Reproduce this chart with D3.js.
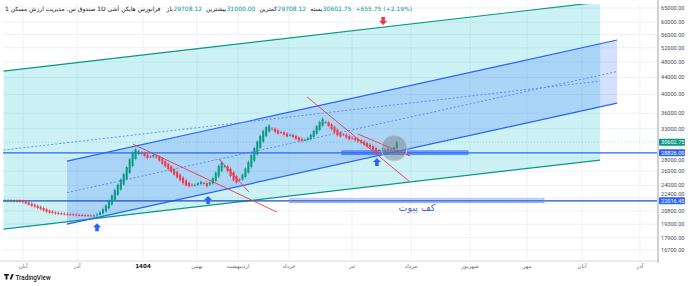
<!DOCTYPE html>
<html>
<head>
<meta charset="utf-8">
<script src="https://cdn.jsdelivr.net/npm/d3@7"></script>
<style>
  body { margin: 0; background: #fff; }
  svg { display: block; }
</style>
</head>
<body>
<svg></svg>
<script>
// heikin ashi closes, one per session
let closes = [
  22050, 21980, 22020, 21990, 22000, 21940, 21850, 21700, 21550, 21400,
  21300, 21150, 21000, 20850, 20700, 20600, 20550, 20500, 20480, 20450,
  20420, 20380, 20400, 20350, 20300, 20320, 20280, 20300, 20260, 20250,
  20280, 20400, 20650, 21000, 21450, 22000, 22700, 23400, 24100, 24800,
  25600, 26600, 27800, 28900, 29400, 29100, 28700, 28300, 28000, 28200,
  28500, 28100, 27600, 27100, 26700, 26300, 25900, 25500, 25100, 24700,
  24300, 24000, 23900, 24000, 24100, 24300, 24500, 24300, 23900, 24400,
  25000, 25800, 26800, 27300, 26800, 26000, 25300, 24700, 24400, 24800,
  25500, 26400, 27400, 28500, 29600, 30700, 31700, 32600, 33300, 33600,
  33000, 32400, 32100, 32300, 31900, 31600, 31900, 31500, 31200, 30900,
  30800, 31000, 31300, 31900, 32600, 33500, 34300, 34900, 34200, 33500,
  32900, 32300, 31800, 31600, 31900, 31400, 31100, 31300, 30900, 30700,
  30500, 30200, 29900, 29700, 29300, 28950, 29200, 29400, 29300, 29500,
  29350, 29700, 30602.75
]

let yTicks = [65000, 60000, 56000, 52000, 48000, 44000, 40000, 36000, 33000,
              28000, 26000, 24000, 22400, 20800, 19300, 17900, 16700]

let monthNames = ["آبان", "آذر", "1404", "بهمن", "اردیبهشت", "خرداد", "تیر", "مرداد", "شهریور", "مهر", "آبان", "آذر"]
let monthAt = [6.1, 24.3, 46.5, 64.7, 78.5, 95.7, 116.9, 136.8, 156.7, 175.9, 194.4, 213.9]

// drawings, in [session index, price]
let cyanUpper = [[-0.5, 45620], [200.5, 67190]]
let cyanLower = [[-0.5, 18779], [200.5, 27677]]
let blueUpper = [[20.9, 27514], [206.2, 54300]]
let blueLower = [[20.9, 19311], [206.2, 38117]]
let redLines = [
  [[43.1, 30277], [91.6, 20665]],
  [[72.1, 27826], [82.2, 23120]],
  [[101.8, 39425], [136.5, 24460]],
  [[118.9, 32025], [136.5, 28303]]
]
let levels = [28826.00, 22016.45]
let upArrows = [[31, 19420], [68.4, 22607], [125.3, 27980]]
let downArrows = [[127.4, 59080]]
let pivotBox = [96, 181.6, 22250, 21780]
let zoneBar = [113.5, 156, 29150, 28500]
let circleAt = [131.1, 29601]
let pivotText = "کف پیوت"

let headerTitle = "فرابورس هایکن آشی 1D صندوق س. مدیریت ارزش مسکن 1"
let headerFields = [["باز", "29708.12"], ["بیشترین", "31000.00"], ["کمترین", "29708.12"], ["بسته", "30602.75"]]
let headerChange = "+655.75 (+2.19%)"

let width = 690
let height = 286
let plotLeft = 3, plotRight = 657, plotTop = 4, plotBottom = 260

let green = "#089981"
let red = "#f23645"
let blue = "#2962ff"
let fa = "DejaVu Sans, sans-serif"

let svg = d3.select("svg").attr("width", width).attr("height", height)

let xScale = d3.scaleLinear().domain([0, 132]).range([5, 396.8])
let yScale = d3.scaleLog().domain([16700, 65000]).range([250, 8])

svg.append("defs").append("clipPath").attr("id", "plot")
  .append("rect")
  .attr("x", plotLeft).attr("y", plotTop)
  .attr("width", plotRight - plotLeft).attr("height", plotBottom - plotTop)

let plot = svg.append("g").attr("clip-path", "url(#plot)")

// grid
plot.selectAll(".hgrid").data(yTicks).enter().append("line")
  .attr("x1", plotLeft).attr("x2", plotRight)
  .attr("y1", d => yScale(d)).attr("y2", d => yScale(d))
  .attr("stroke", "#eef1f6").attr("stroke-width", 1)
plot.selectAll(".vgrid").data(monthAt).enter().append("line")
  .attr("x1", d => xScale(d)).attr("x2", d => xScale(d))
  .attr("y1", plotTop).attr("y2", plotBottom)
  .attr("stroke", "#eef1f6").attr("stroke-width", 1)

let pt = p => [xScale(p[0]), yScale(p[1])]
let line = d3.line()
let mid = (a, b) => a.map((p, k) => [p[0], Math.sqrt(p[1] * b[k][1])])

// cyan channel
plot.append("path")
  .attr("d", line(cyanUpper.map(pt).concat(cyanLower.map(pt).reverse())) + "Z")
  .attr("fill", "rgba(0,188,212,0.2)")

// blue channel
plot.append("path")
  .attr("d", line(blueUpper.map(pt).concat(blueLower.map(pt).reverse())) + "Z")
  .attr("fill", "rgba(41,98,255,0.2)")

;[cyanUpper, cyanLower].forEach(l => {
  plot.append("path").attr("d", line(l.map(pt)))
    .attr("stroke", green).attr("stroke-width", 1.2).attr("fill", "none")
})
;[blueUpper, blueLower].forEach(l => {
  plot.append("path").attr("d", line(l.map(pt)))
    .attr("stroke", blue).attr("stroke-width", 1.2).attr("fill", "none")
})
;[mid(cyanUpper, cyanLower), mid(blueUpper, blueLower)].forEach(l => {
  plot.append("path").attr("d", line(l.map(pt)))
    .attr("stroke", "#5b84f0").attr("stroke-width", 0.9)
    .attr("stroke-dasharray", "2,2").attr("fill", "none")
})

// horizontal levels
plot.selectAll(".level").data(levels).enter().append("line")
  .attr("x1", plotLeft).attr("x2", plotRight)
  .attr("y1", d => yScale(d)).attr("y2", d => yScale(d))
  .attr("stroke", (d, i) => i == 0 ? blue : "#1f4bd0").attr("stroke-width", 1.3)

// pivot floor box
plot.append("rect")
  .attr("x", xScale(pivotBox[0])).attr("width", xScale(pivotBox[1]) - xScale(pivotBox[0]))
  .attr("y", yScale(pivotBox[2])).attr("height", yScale(pivotBox[3]) - yScale(pivotBox[2]))
  .attr("fill", "rgba(41,98,255,0.12)").attr("stroke", "#7a9cf5").attr("stroke-width", 0.8)
plot.append("text")
  .attr("x", xScale((pivotBox[0] + pivotBox[1]) / 2)).attr("y", yScale(pivotBox[3]) + 8)
  .attr("text-anchor", "middle").attr("font-family", fa).attr("font-size", 9.5)
  .attr("fill", "#3a63e0").text(pivotText)

// zone bar
plot.append("rect")
  .attr("x", xScale(zoneBar[0])).attr("width", xScale(zoneBar[1]) - xScale(zoneBar[0]))
  .attr("y", yScale(zoneBar[2])).attr("height", yScale(zoneBar[3]) - yScale(zoneBar[2]))
  .attr("fill", "rgba(41,98,255,0.55)").attr("stroke", "#3f6ef0").attr("stroke-width", 0.6)

// heikin ashi candles
let candles = []
closes.forEach((c, i) => {
  let o = i == 0 ? c : (candles[i - 1].o + candles[i - 1].c) / 2
  candles.push({ i: i, o: o, c: c })
})

let cg = plot.append("g")
cg.selectAll("line").data(candles).enter().append("line")
  .attr("x1", d => xScale(d.i)).attr("x2", d => xScale(d.i))
  .attr("y1", d => yScale(Math.max(d.o, d.c)) - 1.5)
  .attr("y2", d => yScale(Math.min(d.o, d.c)) + 1.5)
  .attr("stroke", d => d.c >= d.o ? green : red).attr("stroke-width", 0.6)
cg.selectAll("rect").data(candles).enter().append("rect")
  .attr("x", d => xScale(d.i) - 1)
  .attr("width", 2)
  .attr("y", d => yScale(Math.max(d.o, d.c)))
  .attr("height", d => Math.max(1, yScale(Math.min(d.o, d.c)) - yScale(Math.max(d.o, d.c))))
  .attr("fill", d => d.c >= d.o ? green : red)

// last price line
let last = closes[closes.length - 1]
plot.append("line")
  .attr("x1", plotLeft).attr("x2", plotRight)
  .attr("y1", yScale(last)).attr("y2", yScale(last))
  .attr("stroke", green).attr("stroke-opacity", 0.35).attr("stroke-width", 0.8)
  .attr("stroke-dasharray", "1,2")

// red trend lines
redLines.forEach(l => {
  plot.append("path").attr("d", line(l.map(pt)))
    .attr("stroke", red).attr("stroke-width", 0.9).attr("fill", "none")
})

// circle
plot.append("circle")
  .attr("cx", xScale(circleAt[0])).attr("cy", yScale(circleAt[1])).attr("r", 13)
  .attr("fill", "rgba(120,123,134,0.45)").attr("stroke", "rgba(200,202,210,0.9)").attr("stroke-width", 1)

// arrows
let arrowUp = "M0,0 L4,4 L1.8,4 L1.8,8 L-1.8,8 L-1.8,4 L-4,4 Z"
let arrowDown = "M0,0 L4,-4 L1.8,-4 L1.8,-8 L-1.8,-8 L-1.8,-4 L-4,-4 Z"
upArrows.forEach(a => {
  plot.append("path").attr("d", arrowUp)
    .attr("transform", "translate(" + xScale(a[0]) + "," + yScale(a[1]) + ")")
    .attr("fill", blue)
})
downArrows.forEach(a => {
  plot.append("path").attr("d", arrowDown)
    .attr("transform", "translate(" + xScale(a[0]) + "," + yScale(a[1]) + ")")
    .attr("fill", red)
})

// axes frame
svg.append("line").attr("x1", 0).attr("x2", 658).attr("y1", 261).attr("y2", 261)
  .attr("stroke", "#d6d9e0").attr("stroke-width", 1)
svg.append("line").attr("x1", 658).attr("x2", 658).attr("y1", 0).attr("y2", 263)
  .attr("stroke", "#c9ccd3").attr("stroke-width", 1.8)

// price tags
let last2 = closes[closes.length - 1]
let tags = [[last2, green], [levels[0], blue], [levels[1], blue]]
let tagY = tags.map(t => yScale(t[0]))

// y axis labels, nudged clear of the price tags
let labelY = d => {
  let y = yScale(d)
  tagY.forEach(ty => {
    if (Math.abs(y - ty) < 7) y = y < ty ? ty - 7 : ty + 7
  })
  return y
}
svg.selectAll(".ylab").data(yTicks).enter().append("text")
  .attr("x", 661).attr("y", d => labelY(d) + 2)
  .attr("font-family", "Roboto, sans-serif").attr("font-size", 5.6)
  .attr("fill", "#4a4e59").text(d => d.toFixed(2))

tags.forEach(t => {
  let y = yScale(t[0])
  svg.append("rect").attr("x", 659).attr("y", y - 3.5).attr("width", 26).attr("height", 7)
    .attr("rx", 1).attr("fill", t[1])
  svg.append("text").attr("x", 661).attr("y", y + 2)
    .attr("font-family", "Roboto, sans-serif").attr("font-size", 5.6)
    .attr("fill", "#fff").text(t[0].toFixed(2))
})

// x axis labels
svg.selectAll(".xlab").data(monthNames).enter().append("text")
  .attr("x", (d, i) => xScale(monthAt[i])).attr("y", 268)
  .attr("text-anchor", "middle")
  .attr("font-family", fa).attr("font-size", 5.6)
  .attr("font-weight", d => d == "1404" ? "bold" : "normal")
  .attr("fill", d => d == "1404" ? "#131722" : "#6a6d78").text(d => d)

// header
let hx = 5
let hy = 11
let title = svg.append("text").attr("x", hx).attr("y", hy)
  .attr("font-family", fa).attr("font-size", 6).attr("fill", "#131722")
  .attr("direction", "rtl").attr("text-anchor", "end").text(headerTitle)
hx += title.node().getComputedTextLength() + 6
headerFields.forEach(f => {
  let a = svg.append("text").attr("x", hx).attr("y", hy)
    .attr("font-family", fa).attr("font-size", 6).attr("fill", "#131722").text(f[0])
  hx += a.node().getComputedTextLength() + 0.5
  let b = svg.append("text").attr("x", hx).attr("y", hy)
    .attr("font-family", fa).attr("font-size", 6).attr("fill", green).text(f[1])
  hx += b.node().getComputedTextLength() + 4
})
svg.append("text").attr("x", hx).attr("y", hy)
  .attr("font-family", fa).attr("font-size", 6).attr("fill", green).text(headerChange)

// logo
svg.append("path").attr("d", "M4,274 h5 v1.6 h-1.6 v4 h-1.8 v-4 h-1.6 Z M9.6,279.6 l2.2,-5.6 h1.9 l-2.2,5.6 Z")
  .attr("fill", "#131722")
svg.append("text").attr("x", 15.5).attr("y", 279.5)
  .attr("font-family", "Roboto, sans-serif").attr("font-size", 6.3).attr("font-weight", 500)
  .attr("fill", "#131722").text("TradingView")
</script>
</body>
</html>
